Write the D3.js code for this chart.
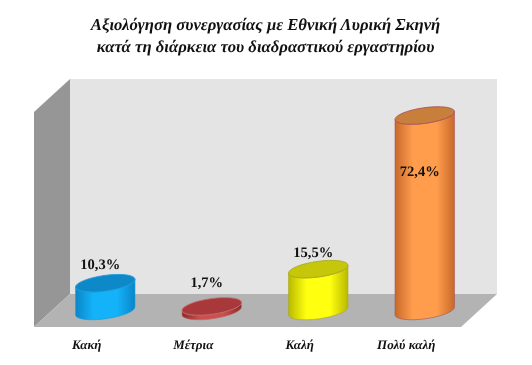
<!DOCTYPE html>
<html>
<head>
<meta charset="utf-8">
<script src="https://cdn.jsdelivr.net/npm/d3@7"></script>
<style>
  html, body { margin: 0; padding: 0; background: #fff; }
  svg { filter: blur(0.3px); text-rendering: geometricPrecision; }
</style>
</head>
<body>
<div id="grafico"></div>
<script>
const categories = ["Κακή", "Μέτρια", "Καλή", "Πολύ καλή"];
const values     = [10.3, 1.7, 15.5, 72.4];
const labels     = ["10,3%", "1,7%", "15,5%", "72,4%"];
const titleLines = ["Αξιολόγηση συνεργασίας με Εθνική Λυρική Σκηνή",
                    "κατά τη διάρκεια του διαδραστικού εργαστηρίου"];

const width  = 532;
const height = 365;
const font   = "Liberation Serif";

// colours per bar: edge of body, middle of body, top face, outline
const bodyEdge = ["#0a86c8", "#8e2a2a", "#b9b900", "#c8692a"];
const bodyMid  = ["#14b2f8", "#c9504e", "#ffff10", "#ff9d4d"];
const topFace  = ["#0d88c9", "#a8383a", "#c6c60a", "#c87f3c"];
const outline  = ["#1d9ad8", "#c06a6a", "#a8a820", "#a8505a"];

// 3d box of the plot
const wall  = { left: 70, right: 497, top: 79, bottom: 294 };
const depth = { x: 36, y: 33 };

const rx = 30;
const ry = 7.8;
const tilt = -8;

// label offset from the top of each bar
const labelDy = [-14, -19, -12, 60];

const svg = d3.select("#grafico")
              .append("svg")
              .attr("width", width)
              .attr("height", height)
              .style("display", "block");

const xScale = d3.scaleBand()
                 .domain(categories)
                 .range([52, 478]);

const yScale = d3.scaleLinear()
                 .domain([0, 80])
                 .range([311, 95]);

// walls and floor
const polygon = pts => pts.map(p => p.join(",")).join(" ");

svg.append("polygon")
   .attr("fill", "#e4e4e4")
   .attr("points", polygon([[wall.left, wall.top], [wall.right, wall.top],
                            [wall.right, wall.bottom], [wall.left, wall.bottom]]));

svg.append("polygon")
   .attr("fill", "#969696")
   .attr("points", polygon([[wall.left, wall.top], [wall.left, wall.bottom],
                            [wall.left - depth.x, wall.bottom + depth.y],
                            [wall.left - depth.x, wall.top + depth.y]]));

svg.append("polygon")
   .attr("fill", "#b3b3b3")
   .attr("points", polygon([[wall.left, wall.bottom], [wall.right, wall.bottom],
                            [wall.right - depth.x, wall.bottom + depth.y],
                            [wall.left - depth.x, wall.bottom + depth.y]]));

// gradients
const defs = svg.append("defs");

categories.forEach((c, i) => {
    const grad = defs.append("linearGradient")
                     .attr("id", `bar-gradient-${i}`);
    grad.selectAll("stop")
        .data([
            { offset: "0%", color: bodyEdge[i] },
            { offset: "30%", color: bodyMid[i] },
            { offset: "70%", color: bodyMid[i] },
            { offset: "100%", color: bodyEdge[i] }
        ])
        .enter()
        .append("stop")
        .attr("offset", d => d.offset)
        .attr("stop-color", d => d.color);
});

// cylinders
const rad = tilt * Math.PI / 180;
const dx  = rx * Math.cos(rad);
const dy  = rx * Math.sin(rad);

const bars = svg.selectAll(".bar")
                .data(values)
                .enter()
                .append("g")
                .attr("class", "bar")
                .attr("transform", (d, i) => `translate(${xScale(categories[i]) + xScale.bandwidth() / 2}, 0)`);

bars.append("path")
    .attr("fill", (d, i) => `url(#bar-gradient-${i})`)
    .attr("stroke", (d, i) => outline[i])
    .attr("stroke-width", 0.6)
    .attr("d", d => {
        const top  = yScale(d);
        const base = yScale(0);
        return `M${-dx},${top - dy} L${-dx},${base - dy} ` +
               `A${rx},${ry} ${tilt} 0 0 ${dx},${base + dy} ` +
               `L${dx},${top + dy} ` +
               `A${rx},${ry} ${tilt} 0 1 ${-dx},${top - dy} Z`;
    });

bars.append("ellipse")
    .attr("rx", rx)
    .attr("ry", ry)
    .attr("transform", d => `translate(0, ${yScale(d)}) rotate(${tilt})`)
    .attr("fill", (d, i) => topFace[i])
    .attr("stroke", (d, i) => outline[i])
    .attr("stroke-width", 0.8);

bars.append("text")
    .attr("x", -5)
    .attr("y", (d, i) => yScale(d) + labelDy[i])
    .attr("text-anchor", "middle")
    .attr("font-family", font)
    .attr("font-weight", "bold")
    .attr("font-size", "14.5px")
    .attr("fill", "#111")
    .text((d, i) => labels[i]);

// category axis runs along the front edge of the floor
const axis = svg.append("g")
                .attr("transform", `translate(-18.5, ${wall.bottom + depth.y})`)
                .call(d3.axisBottom(xScale).tickSize(0).tickPadding(13));

axis.select(".domain").remove();

axis.selectAll("text")
    .attr("font-family", font)
    .attr("font-weight", "bold")
    .attr("font-style", "italic")
    .attr("font-size", "13px")
    .attr("fill", "#111");

// title
svg.selectAll(".title")
   .data(titleLines)
   .enter()
   .append("text")
   .attr("class", "title")
   .attr("x", 265.5)
   .attr("y", (d, i) => 30 + i * 22)
   .attr("text-anchor", "middle")
   .attr("font-family", font)
   .attr("font-weight", "bold")
   .attr("font-style", "italic")
   .attr("font-size", "16.7px")
   .attr("fill", "#111")
   .text(d => d);
</script>
</body>
</html>
